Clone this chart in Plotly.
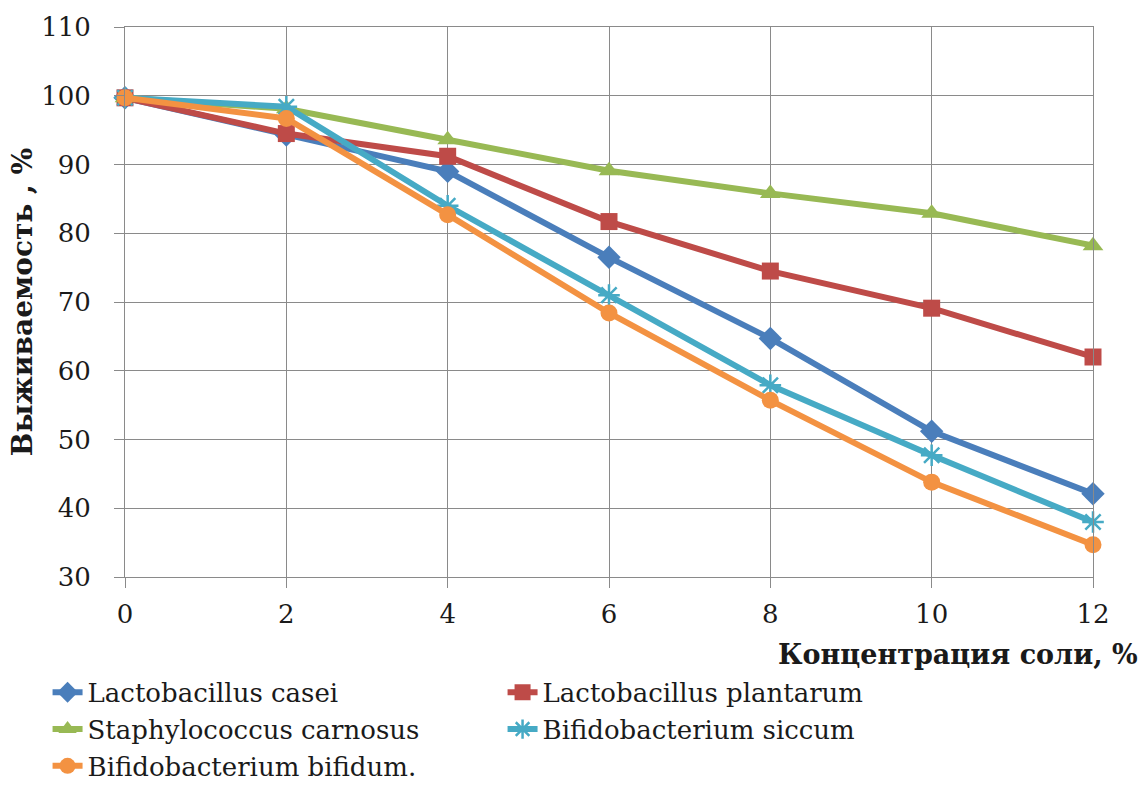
import plotly.graph_objects as go

x_vals = [0, 2, 4, 6, 8, 10, 12]
series_names = [
    "Lactobacillus casei",
    "Lactobacillus plantarum",
    "Staphylococcus carnosus",
    "Bifidobacterium siccum",
    "Bifidobacterium bifidum.",
]
casei = [99.7, 94.3, 89.0, 76.5, 64.7, 51.2, 42.1]
plantarum = [99.7, 94.5, 91.2, 81.7, 74.5, 69.1, 62.0]
carnosus = [99.7, 98.1, 93.6, 89.1, 85.8, 82.9, 78.2]
siccum = [99.7, 98.4, 84.0, 71.0, 57.9, 47.7, 38.0]
bifidum = [99.7, 96.7, 82.7, 68.4, 55.7, 43.8, 34.7]

y_ticks = [30, 40, 50, 60, 70, 80, 90, 100, 110]
x_ticks = [0, 2, 4, 6, 8, 10, 12]

colors = ["#4A7EBB", "#BE4B48", "#98B954", "#46AAC5", "#F39242"]
symbols = ["diamond", "square", "triangle-up", "asterisk-open", "circle"]
sizes = [18, 17, 18, 18, 17]
data = [casei, plantarum, carnosus, siccum, bifidum]

FONT = "DejaVu Serif"
GRID = "#8a8a8a"
TXT = "#1a1a1a"

fig = go.Figure()
for name, ys, c, s, sz in zip(series_names, data, colors, symbols, sizes):
    fig.add_trace(go.Scatter(
        x=x_vals, y=ys, name=name, mode="lines+markers",
        line=dict(color=c, width=6),
        marker=dict(symbol=s, size=sz, color=c,
                    line=dict(color=c, width=2.5 if s == "asterisk-open" else 0)),
        cliponaxis=False,
    ))

fig.update_layout(
    width=1147, height=787,
    margin=dict(l=125, r=54, t=27, b=210, autoexpand=False),
    paper_bgcolor="white", plot_bgcolor="white",
    font=dict(family=FONT, color=TXT, size=26),
    showlegend=True,
    legend=dict(
        orientation="h",
        x=-0.08, xanchor="left",
        y=-0.167, yanchor="top",
        entrywidth=410, entrywidthmode="pixels",
        font=dict(family=FONT, size=26, color=TXT),
        bgcolor="rgba(0,0,0,0)",
        traceorder="normal",
        itemwidth=30,
        tracegroupgap=0,
    ),
    xaxis=dict(
        range=[0, 12], tickmode="array", tickvals=x_ticks,
        showgrid=True, gridcolor=GRID, gridwidth=1,
        showline=True, linecolor=GRID, linewidth=1, mirror=True,
        ticks="outside", ticklen=10, tickcolor=GRID,
        tickfont=dict(family=FONT, size=26, color=TXT),
        ticklabelstandoff=4,
        zeroline=False,
    ),
    yaxis=dict(
        range=[30, 110], tickmode="array", tickvals=y_ticks,
        showgrid=True, gridcolor=GRID, gridwidth=1,
        showline=True, linecolor=GRID, linewidth=1, mirror=True,
        ticks="outside", ticklen=10, tickcolor=GRID,
        tickfont=dict(family=FONT, size=26, color=TXT),
        ticklabelstandoff=18,
        zeroline=False,
        title=dict(text="<b>Выживаемость , %</b>",
                   font=dict(family=FONT, size=28, color=TXT), standoff=0),
    ),
    annotations=[dict(
        text="<b>Концентрация соли, %</b>",
        xref="paper", yref="paper", x=1.0486, y=-0.1418,
        xanchor="right", yanchor="middle", showarrow=False,
        font=dict(family=FONT, size=27, color=TXT),
    )],
)

fig.write_html("out.html")
